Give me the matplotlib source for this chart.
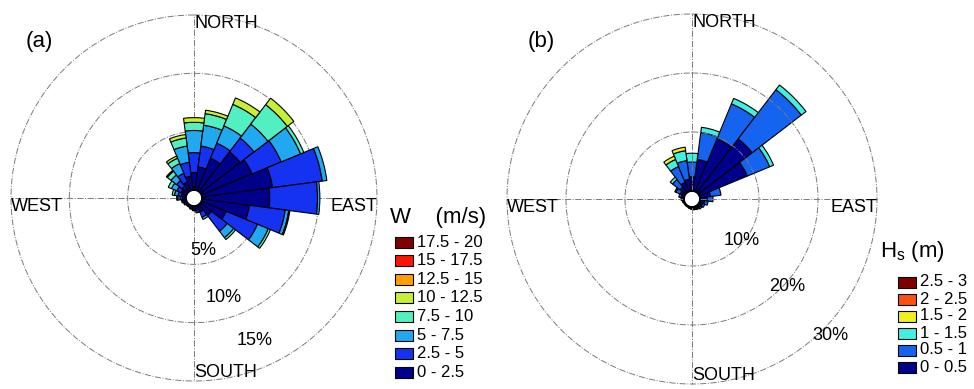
import numpy as np
import matplotlib
matplotlib.use("Agg")
import matplotlib.pyplot as plt
from matplotlib.patches import Rectangle

plt.rcParams['font.family'] = ['Liberation Sans', 'DejaVu Sans']

W, H = 974, 389

# sector centres (deg, clockwise from north)
directions = [0, 15, 30, 45, 60, 75, 90, 105, 120, 135, 150, 165,
              180, 195, 210, 225, 240, 255, 270, 285, 300, 315, 330, 345]

# (a) wind speed, frequency (%) of each speed class per sector
wind_labels = ['0 - 2.5', '2.5 - 5', '5 - 7.5', '7.5 - 10',
               '10 - 12.5', '12.5 - 15', '15 - 17.5', '17.5 - 20']
wind_colors = ['#00008b', '#1432f0', '#20a8f0', '#52f0c0',
               '#c8f032', '#ffa000', '#ff1400', '#7f0000']
wind_0_25 = [1.5, 2.0, 3.0, 4.3, 4.7, 6.1, 5.8, 4.1, 2.3, 1.2, 0.6, 0.4,
             0.3, 0.3, 0.2, 0.2, 0.3, 0.3, 0.3, 0.4, 0.5, 0.6, 0.8, 1.2]
wind_25_5 = [1.7, 1.8, 1.4, 1.5, 2.7, 4.3, 4.1, 3.1, 2.9, 1.7, 0.5, 0.2,
             0.1, 0.0, 0.0, 0.0, 0.0, 0.1, 0.2, 0.3, 0.4, 0.6, 0.8, 1.2]
wind_5_75 = [1.9, 1.8, 1.6, 1.5, 1.8, 0.4, 0.2, 0.3, 1.0, 0.7, 0.2, 0.0,
             0.0, 0.0, 0.0, 0.0, 0.0, 0.0, 0.2, 0.3, 0.5, 0.6, 0.9, 1.4]
wind_75_10 = [0.7, 1.0, 2.0, 2.1, 0.3, 0.0, 0.0, 0.1, 0.2, 0.2, 0.0, 0.0,
              0.0, 0.0, 0.0, 0.0, 0.0, 0.0, 0.1, 0.2, 0.3, 0.4, 0.5, 0.7]
wind_10_125 = [0.4, 0.3, 0.6, 0.7, 0.0, 0.0, 0.0, 0.0, 0.0, 0.0, 0.0, 0.0,
               0.0, 0.0, 0.0, 0.0, 0.0, 0.0, 0.0, 0.0, 0.0, 0.1, 0.2, 0.3]
wind_125_15 = [0.0, 0.0, 0.0, 0.0, 0.0, 0.0, 0.0, 0.0, 0.0, 0.0, 0.0, 0.0,
               0.0, 0.0, 0.0, 0.0, 0.0, 0.0, 0.0, 0.0, 0.0, 0.0, 0.0, 0.0]
wind_15_175 = [0.0, 0.0, 0.0, 0.0, 0.0, 0.0, 0.0, 0.0, 0.0, 0.0, 0.0, 0.0,
               0.0, 0.0, 0.0, 0.0, 0.0, 0.0, 0.0, 0.0, 0.0, 0.0, 0.0, 0.0]
wind_175_20 = [0.0, 0.0, 0.0, 0.0, 0.0, 0.0, 0.0, 0.0, 0.0, 0.0, 0.0, 0.0,
               0.0, 0.0, 0.0, 0.0, 0.0, 0.0, 0.0, 0.0, 0.0, 0.0, 0.0, 0.0]
wind_rings = [5, 10, 15]

# (b) significant wave height
hs_labels = ['0 - 0.5', '0.5 - 1', '1 - 1.5', '1.5 - 2', '2 - 2.5', '2.5 - 3']
hs_colors = ['#00008b', '#1464f0', '#40f0e0', '#f0f020', '#ff5014', '#800000']
hs_0_05 = [2.4, 5.4, 9.7, 11.5, 8.8, 1.8, 1.2, 0.8, 0.6, 0.5, 0.4, 0.4,
           0.3, 0.3, 0.2, 0.2, 0.2, 0.3, 0.4, 0.5, 0.8, 1.2, 1.7, 2.0]
hs_05_1 = [2.5, 4.6, 6.4, 10.5, 4.1, 1.8, 1.0, 0.6, 0.4, 0.3, 0.2, 0.1,
           0.1, 0.0, 0.0, 0.0, 0.0, 0.0, 0.1, 0.4, 0.8, 1.6, 2.9, 3.2]
hs_1_15 = [1.5, 0.9, 1.0, 1.0, 0.7, 0.0, 0.0, 0.0, 0.0, 0.0, 0.0, 0.0,
           0.0, 0.0, 0.0, 0.0, 0.0, 0.0, 0.0, 0.0, 0.2, 0.5, 1.3, 1.7]
hs_15_2 = [0.0, 0.0, 0.0, 0.0, 0.0, 0.0, 0.0, 0.0, 0.0, 0.0, 0.0, 0.0,
           0.0, 0.0, 0.0, 0.0, 0.0, 0.0, 0.0, 0.0, 0.0, 0.0, 0.6, 0.6]
hs_2_25 = [0.0, 0.0, 0.0, 0.0, 0.0, 0.0, 0.0, 0.0, 0.0, 0.0, 0.0, 0.0,
           0.0, 0.0, 0.0, 0.0, 0.0, 0.0, 0.0, 0.0, 0.0, 0.0, 0.0, 0.0]
hs_25_3 = [0.0, 0.0, 0.0, 0.0, 0.0, 0.0, 0.0, 0.0, 0.0, 0.0, 0.0, 0.0,
           0.0, 0.0, 0.0, 0.0, 0.0, 0.0, 0.0, 0.0, 0.0, 0.0, 0.0, 0.0]
hs_rings = [10, 20, 30]


def px_box(cx, cy, r):
    # square axes box in figure fraction from a centre/radius in pixels
    return [(cx - r) / W, 1 - (cy + r) / H, 2 * r / W, 2 * r / H]


def draw_rose(ax, bins, colors, rings, hole, grid_top, lab_ang, lab_r):
    ax.set_theta_zero_location('N')
    ax.set_theta_direction(-1)
    theta = np.deg2rad(directions)
    base = np.zeros(len(directions))
    for values, color in zip(bins, colors):
        values = np.asarray(values, dtype=float)
        keep = values > 0
        ax.bar(theta[keep], values[keep], width=np.deg2rad(15), bottom=base[keep],
               color=color, edgecolor='black', linewidth=0.8, zorder=2)
        base += values
    rmax = rings[-1]
    ax.set_rorigin(-hole)
    ax.set_ylim(0, rmax)
    ax.set_xticks([])
    ax.set_yticks([])
    ax.grid(False)
    ax.spines['polar'].set_visible(False)

    z = 3 if grid_top else 1
    t = np.linspace(0, 2 * np.pi, 400)
    for r in rings:
        ax.plot(t, np.full_like(t, r), color='#7a7a7a', ls='-.', lw=0.7,
                zorder=z, clip_on=False)
    for a in (0, 90, 180, 270):
        ax.plot([np.deg2rad(a)] * 2, [0, rmax], color='#7a7a7a', ls='-.',
                lw=0.7, zorder=z, clip_on=False)
    ax.plot(t, np.zeros_like(t), color='black', lw=1.3, zorder=4, clip_on=False)

    fs = 13
    ax.text(0, rmax, 'NORTH', ha='left', va='top', fontsize=fs)
    ax.text(np.pi / 2, rmax, 'EAST', ha='right', va='top', fontsize=fs)
    ax.text(3 * np.pi / 2, rmax, 'WEST', ha='left', va='top', fontsize=fs)
    ax.text(np.pi, rmax, 'SOUTH', ha='left', va='bottom', fontsize=fs)
    for r in rings:
        ax.text(np.deg2rad(lab_ang(r)), lab_r(r), f'{r}%', ha='center',
                va='center', fontsize=13, zorder=5)


def draw_key(fig, title, labels, colors, x0, y0, step, tx, ty, fs):
    fig.text(tx / W, 1 - ty / H, title, ha='left', va='center', fontsize=16)
    pw, ph = 18, 11
    for i, (lab, col) in enumerate(zip(labels[::-1], colors[::-1])):
        yc = y0 + i * step
        fig.add_artist(Rectangle((x0 / W, 1 - (yc + ph / 2) / H), pw / W, ph / H,
                                 transform=fig.transFigure, facecolor=col,
                                 edgecolor='black', lw=0.8))
        fig.text((x0 + pw + 4) / W, 1 - yc / H, lab, ha='left', va='center',
                 fontsize=fs)


fig = plt.figure(figsize=(W / 100, H / 100), dpi=100)

ax_a = fig.add_axes(px_box(194, 198, 183), projection='polar')
draw_rose(ax_a, [wind_0_25, wind_25_5, wind_5_75, wind_75_10, wind_10_125,
                 wind_125_15, wind_15_175, wind_175_20],
          wind_colors, wind_rings, hole=0.69, grid_top=False,
          lab_ang=lambda f: 176.5 - 1.3 * f, lab_r=lambda f: 0.87 * f - 0.45)

ax_b = fig.add_axes(px_box(692, 199, 185), projection='polar')
draw_rose(ax_b, [hs_0_05, hs_05_1, hs_1_15, hs_15_2, hs_2_25, hs_25_3],
          hs_colors, hs_rings, hole=1.36, grid_top=True,
          lab_ang=lambda f: 128 + 0.22 * f, lab_r=lambda f: 1.1 * f - 1.4)

draw_key(fig, 'W    (m/s)', wind_labels, wind_colors, 395, 242, 18.6, 390, 218, 12)
draw_key(fig, r'H$_\mathregular{s}$ (m)', hs_labels, hs_colors, 898, 282, 17, 880, 252, 12)

fig.text(39 / W, 1 - 42 / H, '(a)', ha='center', va='center', fontsize=16)
fig.text(541 / W, 1 - 42 / H, '(b)', ha='center', va='center', fontsize=16)

fig.savefig('out.png', dpi=100)
